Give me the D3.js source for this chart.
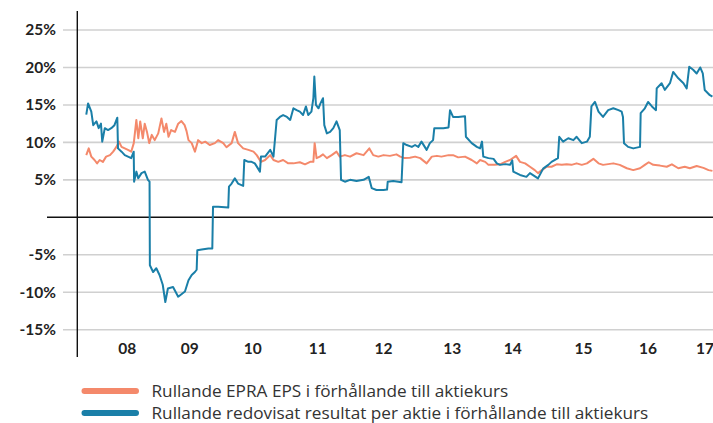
<!DOCTYPE html>
<html>
<head>
<meta charset="utf-8">
<script src="https://cdn.jsdelivr.net/npm/d3@7/dist/d3.min.js"></script>
<style>
  html, body { margin: 0; padding: 0; background: #fff; }
  svg { display: block; }
</style>
</head>
<body>
<div id="chart"></div>
<script>
// ---- Data (decimal year, percent) ----
const epraYears = [2007.372,2007.41,2007.45,2007.50,2007.54,2007.58,2007.63,2007.68,2007.74,2007.79,2007.84,2007.88,2007.92,2007.97,2008.02,2008.07,2008.11,2008.15,2008.18,2008.21,2008.25,2008.28,2008.315,2008.35,2008.39,2008.435,2008.49,2008.54,2008.58,2008.615,2008.65,2008.69,2008.75,2008.80,2008.85,2008.90,2008.93,2008.96,2009.01,2009.06,2009.11,2009.165,2009.22,2009.29,2009.37,2009.42,2009.50,2009.55,2009.63,2009.68,2009.73,2009.81,2009.89,2009.97,2010.02,2010.086,2010.15,2010.23,2010.28,2010.355,2010.43,2010.51,2010.59,2010.69,2010.77,2010.85,2010.90,2010.92,2010.95,2011.00,2011.05,2011.11,2011.185,2011.26,2011.31,2011.39,2011.47,2011.57,2011.68,2011.77,2011.83,2011.91,2011.99,2012.09,2012.19,2012.25,2012.32,2012.40,2012.48,2012.56,2012.66,2012.74,2012.82,2012.89,2013.00,2013.07,2013.15,2013.256,2013.36,2013.44,2013.49,2013.57,2013.62,2013.72,2013.80,2013.88,2013.955,2014.05,2014.11,2014.19,2014.265,2014.34,2014.39,2014.45,2014.525,2014.60,2014.68,2014.76,2014.835,2014.91,2014.99,2015.07,2015.15,2015.25,2015.33,2015.40,2015.48,2015.56,2015.66,2015.77,2015.87,2015.975,2016.05,2016.11,2016.18,2016.285,2016.39,2016.47,2016.57,2016.67,2016.75,2016.855,2016.96,2017.04,2017.10];
const epraValues = [8.3,9.2,8.1,7.65,7.2,7.65,7.4,8.1,8.3,8.76,9.4,10.1,9.4,9.2,9.0,8.76,9.9,13.0,10.55,12.8,10.55,12.5,11.4,9.9,11.0,10.3,11.2,13.2,11.4,12.5,10.75,11.65,11.4,12.5,12.85,12.3,11.5,10.3,9.9,8.76,10.3,9.9,10.1,9.65,9.9,10.3,9.9,9.35,9.9,11.4,9.9,9.2,9.0,8.76,8.3,7.4,7.65,8.3,7.65,7.4,7.65,7.2,7.2,7.35,7.07,7.4,7.4,9.9,7.9,8.1,8.4,7.9,8.3,8.76,8.1,8.3,8.1,8.55,8.3,9.2,8.3,8.1,8.3,8.2,8.4,8.1,7.9,7.95,8.1,7.9,7.2,8.1,8.2,8.1,8.3,8.3,8.0,8.1,7.65,7.2,7.65,7.4,7.0,7.0,7.07,7.4,7.65,8.2,7.4,7.2,6.75,6.3,5.9,6.3,6.75,6.75,7.07,7.0,7.07,7.0,7.2,7.0,7.2,7.8,7.2,7.0,7.1,7.2,7.0,6.55,6.3,6.55,7.0,7.35,7.0,6.9,6.75,7.07,6.55,6.75,6.55,6.85,6.6,6.3,6.2];

const resultYears = [2007.372,2007.40,2007.45,2007.48,2007.53,2007.565,2007.60,2007.62,2007.66,2007.71,2007.76,2007.81,2007.854,2007.865,2007.92,2007.97,2008.02,2008.07,2008.109,2008.115,2008.15,2008.18,2008.23,2008.28,2008.33,2008.355,2008.36,2008.41,2008.46,2008.51,2008.56,2008.60,2008.64,2008.72,2008.80,2008.875,2008.905,2008.96,2009.01,2009.06,2009.087,2009.097,2009.165,2009.27,2009.33,2009.341,2009.42,2009.578,2009.589,2009.63,2009.68,2009.73,2009.81,2009.827,2009.89,2009.94,2009.99,2010.07,2010.086,2010.15,2010.23,2010.28,2010.33,2010.38,2010.43,2010.49,2010.54,2010.59,2010.64,2010.69,2010.74,2010.785,2010.82,2010.87,2010.90,2010.915,2010.94,2010.98,2011.01,2011.05,2011.07,2011.11,2011.16,2011.21,2011.26,2011.29,2011.31,2011.33,2011.39,2011.47,2011.57,2011.68,2011.76,2011.806,2011.88,2011.99,2012.045,2012.055,2012.14,2012.22,2012.27,2012.297,2012.35,2012.43,2012.48,2012.53,2012.58,2012.66,2012.71,2012.76,2012.779,2012.84,2012.92,2013.00,2013.023,2013.07,2013.15,2013.256,2013.27,2013.36,2013.44,2013.49,2013.52,2013.54,2013.62,2013.70,2013.75,2013.80,2013.88,2013.955,2013.99,2014.006,2014.11,2014.21,2014.265,2014.39,2014.47,2014.55,2014.60,2014.70,2014.72,2014.78,2014.86,2014.94,2014.99,2015.07,2015.15,2015.195,2015.22,2015.275,2015.33,2015.40,2015.48,2015.56,2015.64,2015.69,2015.71,2015.726,2015.79,2015.87,2015.975,2015.985,2016.05,2016.10,2016.16,2016.223,2016.234,2016.31,2016.36,2016.44,2016.49,2016.57,2016.65,2016.70,2016.74,2016.80,2016.855,2016.91,2016.95,2016.98,2017.06,2017.10];
const resultValues = [13.7,15.2,14.1,12.3,12.8,11.9,12.5,10.1,11.9,11.65,11.9,12.3,13.3,9.2,8.76,8.3,8.1,7.9,8.76,4.75,6.1,5.2,5.9,6.1,5.0,4.75,-6.4,-7.3,-6.8,-7.7,-9.0,-11.3,-9.5,-9.3,-10.6,-10.1,-9.9,-8.4,-7.7,-7.3,-7.0,-4.4,-4.3,-4.15,-4.15,1.4,1.4,1.3,4.1,4.5,5.2,4.5,4.2,7.65,7.4,7.4,7.2,6.1,8.1,8.1,9.0,8.1,13.0,13.4,13.65,13.4,13.0,14.55,14.3,14.1,13.66,14.8,13.66,14.1,15.9,18.8,15.0,14.55,15.2,15.9,12.3,11.2,11.4,11.9,12.8,12.1,11.65,5.0,4.75,5.0,4.85,5.0,5.4,3.9,3.65,3.65,3.7,4.75,4.85,4.75,4.67,9.9,9.65,9.4,9.65,9.4,10.1,9.0,9.9,10.3,11.9,11.9,11.9,12.0,14.3,13.4,13.4,13.5,10.75,9.9,9.4,9.2,10.1,8.1,7.9,7.8,7.2,7.0,7.1,7.0,7.6,6.1,5.65,5.4,5.9,5.2,6.5,7.0,7.4,7.9,10.75,10.1,10.55,10.3,10.75,9.9,10.1,10.75,14.8,15.4,14.1,13.4,14.3,14.55,14.3,14.1,13.4,9.9,9.4,9.2,9.4,13.9,14.55,15.4,14.8,14.3,17.2,17.9,17.0,17.9,19.4,18.55,17.9,17.2,20.1,19.7,19.2,20.0,19.2,17.0,16.3,16.1];

const yTicks = [-15, -10, -5, 5, 10, 15, 20, 25];
const xTickYears = [2008.0, 2008.97, 2009.95, 2010.96, 2011.98, 2013.05, 2013.99, 2015.09, 2016.09, 2016.975];
const xTickLabels = ["08","09","10","11","12","13","14","15","16","17"];

const seriesNames = [
  "Rullande EPRA EPS i förhållande till aktiekurs",
  "Rullande redovisat resultat per aktie i förhållande till aktiekurs"
];
const seriesColors = ["#F4896B", "#1A7FA8"];

// ---- Chart ----
const W = 713, H = 423;
const svg = d3.select("#chart").append("svg").attr("width", W).attr("height", H);

const x = d3.scaleLinear().domain([2008, 2017]).range([126.7, 706]);
const y = d3.scaleLinear().domain([-15, 25]).range([329.7, 30]);

// gridlines
svg.append("g").selectAll("line").data(yTicks).join("line")
  .attr("x1", 63).attr("x2", W)
  .attr("y1", d => y(d)).attr("y2", d => y(d))
  .attr("stroke", "#d0d0d0").attr("stroke-width", 1.6);

// y tick labels
const yAxis = d3.axisLeft(y).tickValues(yTicks).tickSize(0).tickPadding(0)
  .tickFormat(d => d + "%");
const gy = svg.append("g").attr("transform", "translate(56,0)").call(yAxis);
gy.select(".domain").remove();
gy.selectAll("text")
  .attr("font-family", "Lato, 'Open Sans', sans-serif")
  .attr("font-weight", 700).attr("font-size", 15.5).attr("fill", "#222");

// x tick labels
const xAxis = d3.axisBottom(x).tickValues(xTickYears).tickSize(0).tickPadding(0)
  .tickFormat((d, i) => xTickLabels[i]);
const gx = svg.append("g").attr("transform", "translate(0,343)").call(xAxis);
gx.select(".domain").remove();
gx.selectAll("text")
  .attr("font-family", "Lato, 'Open Sans', sans-serif")
  .attr("font-weight", 700).attr("font-size", 15.5).attr("fill", "#222");

// zero line
svg.append("line").attr("x1", 47).attr("x2", W)
  .attr("y1", y(0)).attr("y2", y(0)).attr("stroke", "#111").attr("stroke-width", 1.4);

// vertical axis line
svg.append("line").attr("x1", 77.3).attr("x2", 77.3)
  .attr("y1", 11).attr("y2", 357).attr("stroke", "#111").attr("stroke-width", 1.4);

const line = d3.line().x(d => x(d[0])).y(d => y(d[1]));
const epra = d3.zip(epraYears, epraValues);
const result = d3.zip(resultYears, resultValues);

svg.append("path").datum(epra).attr("d", line)
  .attr("fill", "none").attr("stroke", seriesColors[0]).attr("stroke-width", 2)
  .attr("stroke-linejoin", "round");
svg.append("path").datum(result).attr("d", line)
  .attr("fill", "none").attr("stroke", seriesColors[1]).attr("stroke-width", 2)
  .attr("stroke-linejoin", "round");

// legend
const legY = [391, 413];
const leg = svg.append("g");
seriesNames.forEach((name, i) => {
  leg.append("line").attr("x1", 84.5).attr("x2", 136)
    .attr("y1", legY[i]).attr("y2", legY[i])
    .attr("stroke", seriesColors[i]).attr("stroke-width", 6).attr("stroke-linecap", "round");
  leg.append("text").attr("x", 151.5).attr("y", legY[i]).attr("dy", "0.36em")
    .attr("font-family", "'Open Sans', Lato, sans-serif")
    .attr("font-size", 17.2).attr("fill", "#333").text(name);
});
</script>
</body>
</html>
